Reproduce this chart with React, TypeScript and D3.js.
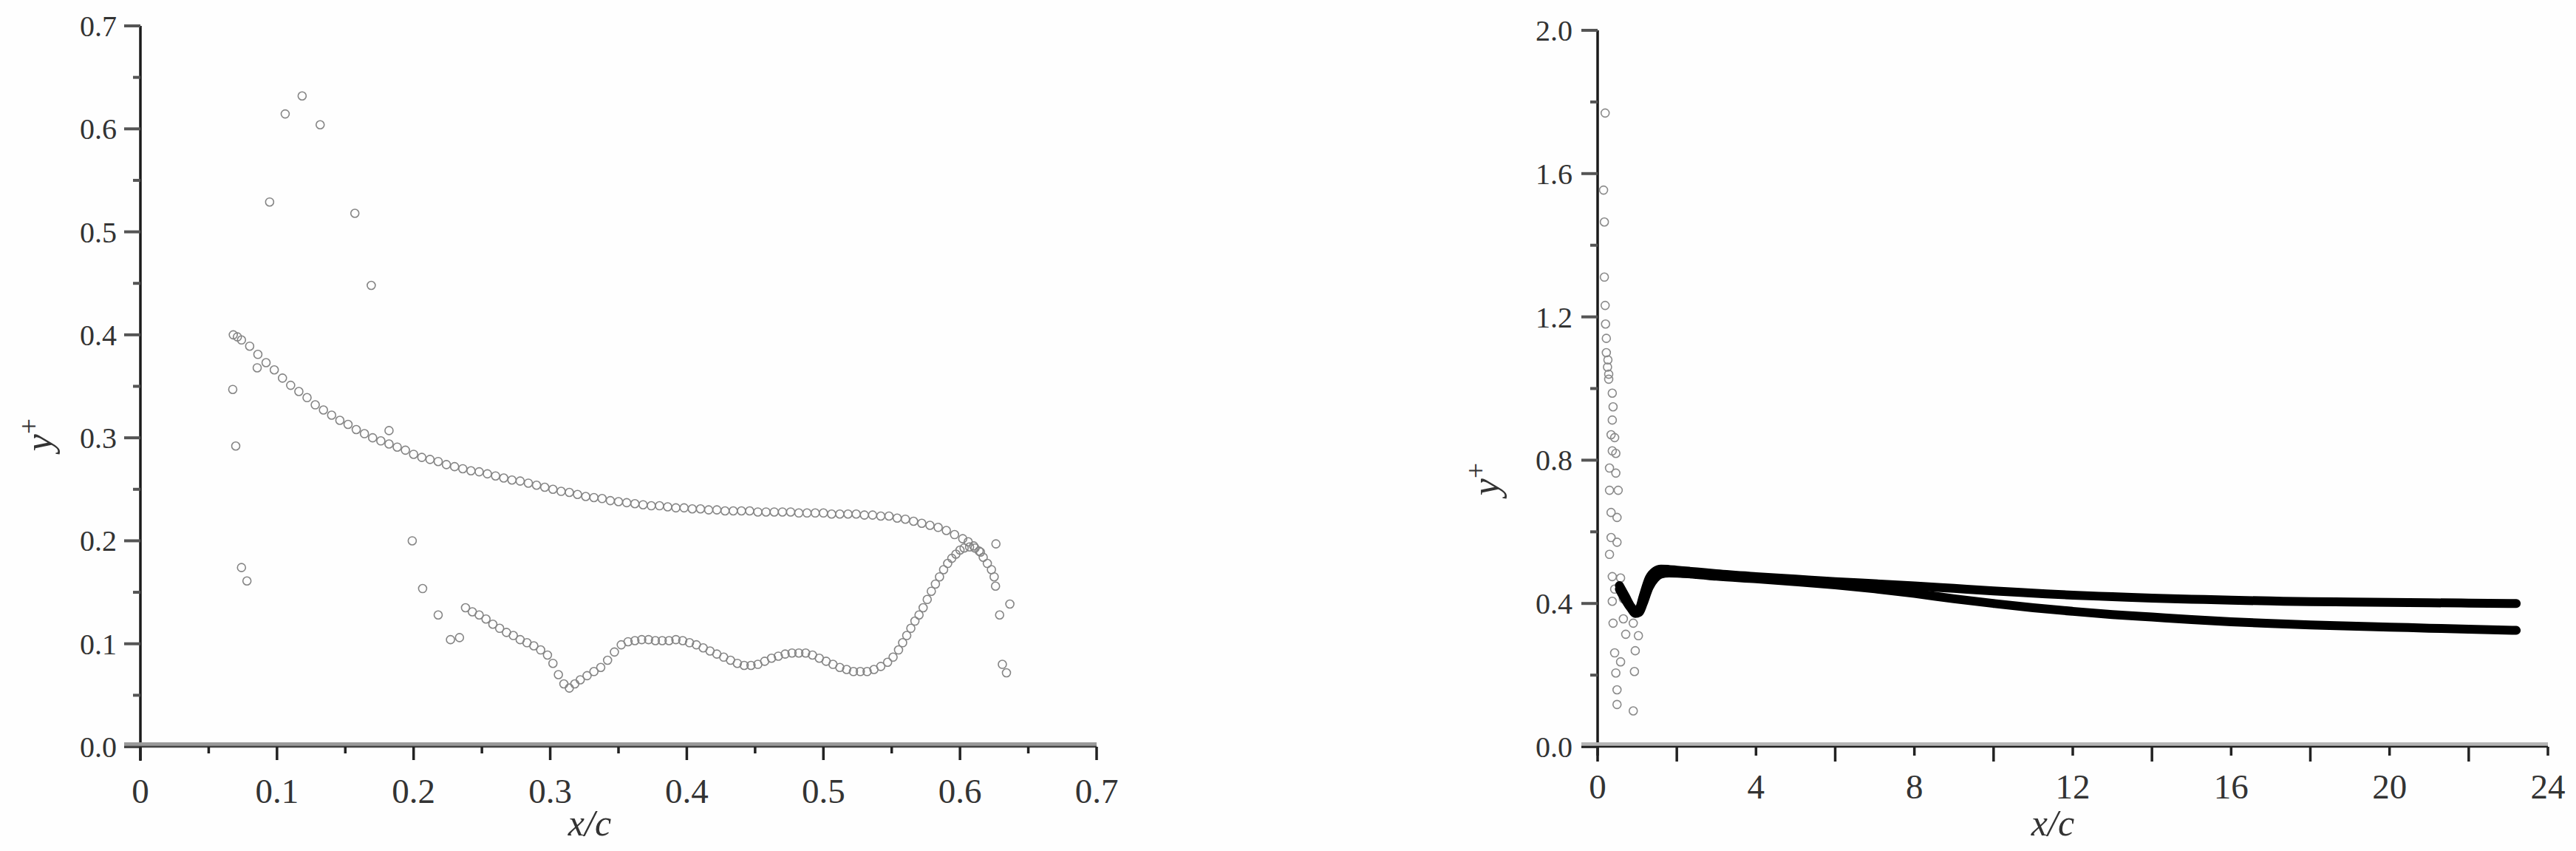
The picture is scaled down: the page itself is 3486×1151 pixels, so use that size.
import React from 'react';
import * as d3 from 'd3';

const W = 3486;
const H = 1151;

// ---------- Left panel data ----------
const leftXTicks = [0, 0.1, 0.2, 0.3, 0.4, 0.5, 0.6, 0.7];
const leftXTickLabels = ['0', '0.1', '0.2', '0.3', '0.4', '0.5', '0.6', '0.7'];
const leftXMinor = [0.05, 0.15, 0.25, 0.35, 0.45, 0.55, 0.65];
const leftYTicks = [0, 0.1, 0.2, 0.3, 0.4, 0.5, 0.6, 0.7];
const leftYTickLabels = ['0.0', '0.1', '0.2', '0.3', '0.4', '0.5', '0.6', '0.7'];
const leftYMinor = [0.05, 0.15, 0.25, 0.35, 0.45, 0.55, 0.65];

const upperX = [0.068, 0.071, 0.074, 0.080, 0.086, 0.092, 0.098, 0.104, 0.110, 0.116, 0.122, 0.128, 0.134, 0.140, 0.146, 0.152, 0.158, 0.164, 0.170, 0.176, 0.182, 0.188, 0.194, 0.200, 0.206, 0.212, 0.218, 0.224, 0.230, 0.236, 0.242, 0.248, 0.254, 0.260, 0.266, 0.272, 0.278, 0.284, 0.290, 0.296, 0.302, 0.308, 0.314, 0.320, 0.326, 0.332, 0.338, 0.344, 0.350, 0.356, 0.362, 0.368, 0.374, 0.380, 0.386, 0.392, 0.398, 0.404, 0.410, 0.416, 0.422, 0.428, 0.434, 0.440, 0.446, 0.452, 0.458, 0.464, 0.470, 0.476, 0.482, 0.488, 0.494, 0.500, 0.506, 0.512, 0.518, 0.524, 0.530, 0.536, 0.542, 0.548, 0.554, 0.560, 0.566, 0.572, 0.578, 0.584, 0.590, 0.596, 0.602, 0.606, 0.610, 0.614, 0.617, 0.620, 0.623, 0.625, 0.626];
const upperY = [0.400, 0.398, 0.395, 0.389, 0.381, 0.373, 0.366, 0.358, 0.351, 0.345, 0.339, 0.332, 0.327, 0.322, 0.317, 0.313, 0.308, 0.304, 0.300, 0.297, 0.294, 0.291, 0.288, 0.284, 0.281, 0.279, 0.277, 0.274, 0.272, 0.270, 0.268, 0.267, 0.265, 0.263, 0.261, 0.259, 0.258, 0.256, 0.254, 0.252, 0.250, 0.248, 0.247, 0.245, 0.243, 0.242, 0.241, 0.239, 0.238, 0.237, 0.236, 0.235, 0.234, 0.234, 0.233, 0.232, 0.232, 0.231, 0.231, 0.230, 0.230, 0.229, 0.229, 0.229, 0.229, 0.228, 0.228, 0.228, 0.228, 0.228, 0.227, 0.227, 0.227, 0.227, 0.226, 0.226, 0.226, 0.226, 0.225, 0.225, 0.224, 0.224, 0.222, 0.221, 0.219, 0.217, 0.215, 0.213, 0.210, 0.206, 0.202, 0.199, 0.195, 0.190, 0.184, 0.178, 0.172, 0.165, 0.156];

const lowerX = [0.238, 0.243, 0.248, 0.253, 0.258, 0.263, 0.268, 0.273, 0.278, 0.283, 0.288, 0.293, 0.298, 0.302, 0.306, 0.310, 0.314, 0.318, 0.322, 0.327, 0.332, 0.337, 0.342, 0.347, 0.352, 0.357, 0.362, 0.367, 0.372, 0.377, 0.382, 0.387, 0.392, 0.397, 0.402, 0.407, 0.412, 0.417, 0.422, 0.427, 0.432, 0.437, 0.442, 0.447, 0.452, 0.457, 0.462, 0.467, 0.472, 0.477, 0.482, 0.487, 0.492, 0.497, 0.502, 0.507, 0.512, 0.517, 0.522, 0.527, 0.532, 0.537, 0.542, 0.547, 0.551, 0.555, 0.558, 0.561, 0.564, 0.567, 0.570, 0.573, 0.576, 0.579, 0.582, 0.585, 0.588, 0.591, 0.594, 0.597, 0.600, 0.603, 0.607, 0.611, 0.615];
const lowerY = [0.135, 0.131, 0.128, 0.124, 0.119, 0.115, 0.111, 0.108, 0.104, 0.101, 0.098, 0.094, 0.089, 0.081, 0.070, 0.061, 0.057, 0.061, 0.065, 0.069, 0.073, 0.077, 0.084, 0.092, 0.099, 0.102, 0.103, 0.104, 0.104, 0.103, 0.103, 0.103, 0.104, 0.103, 0.101, 0.099, 0.096, 0.093, 0.090, 0.087, 0.084, 0.081, 0.079, 0.079, 0.080, 0.083, 0.086, 0.088, 0.090, 0.091, 0.091, 0.091, 0.089, 0.086, 0.083, 0.080, 0.077, 0.075, 0.073, 0.073, 0.073, 0.075, 0.078, 0.082, 0.087, 0.094, 0.101, 0.108, 0.115, 0.122, 0.128, 0.135, 0.143, 0.151, 0.158, 0.165, 0.172, 0.178, 0.183, 0.187, 0.191, 0.193, 0.194, 0.193, 0.189];

const scatterLX = [0.0676, 0.0698, 0.074, 0.078, 0.0855, 0.0946, 0.106, 0.1184, 0.1316, 0.157, 0.169, 0.182, 0.199, 0.2066, 0.218, 0.227, 0.2336, 0.6263, 0.6365, 0.629, 0.631, 0.634];
const scatterLY = [0.347, 0.292, 0.174, 0.161, 0.368, 0.529, 0.6145, 0.632, 0.604, 0.518, 0.448, 0.307, 0.200, 0.1536, 0.128, 0.104, 0.106, 0.197, 0.1386, 0.128, 0.080, 0.0718];

// ---------- Right panel data ----------
const rightXTicks = [0, 4, 8, 12, 16, 20, 24];
const rightXTickLabels = ['0', '4', '8', '12', '16', '20', '24'];
const rightXMid = [2, 6, 10, 14, 18, 22];
const rightYTicks = [0, 0.4, 0.8, 1.2, 1.6, 2.0];
const rightYTickLabels = ['0.0', '0.4', '0.8', '1.2', '1.6', '2.0'];
const rightYMinor = [0.2, 0.6, 1.0, 1.4, 1.8];

const trackX = [0.55, 0.7, 0.85, 0.95, 1.05, 1.15, 1.3, 1.45, 1.6, 1.8, 2.1, 2.5, 3, 4, 5, 6, 7, 8, 9, 10, 11, 12, 13, 14, 15, 16, 17, 18, 19, 20, 21, 22, 23.2];
const trackAY = [0.45, 0.42, 0.39, 0.38, 0.385, 0.42, 0.47, 0.49, 0.496, 0.495, 0.492, 0.488, 0.483, 0.475, 0.468, 0.461, 0.455, 0.449, 0.442, 0.435, 0.429, 0.423, 0.419, 0.415, 0.412, 0.409, 0.407, 0.405, 0.404, 0.403, 0.402, 0.401, 0.400];
const trackBY = [0.44, 0.41, 0.385, 0.372, 0.375, 0.40, 0.445, 0.47, 0.482, 0.485, 0.484, 0.481, 0.476, 0.469, 0.461, 0.452, 0.441, 0.428, 0.413, 0.400, 0.388, 0.378, 0.369, 0.362, 0.355, 0.349, 0.344, 0.340, 0.337, 0.334, 0.331, 0.328, 0.325];

const scatterRX = [0.19, 0.15, 0.17, 0.17, 0.19, 0.20, 0.22, 0.22, 0.25, 0.26, 0.28, 0.28, 0.37, 0.39, 0.37, 0.34, 0.43, 0.37, 0.46, 0.30, 0.46, 0.30, 0.52, 0.34, 0.49, 0.34, 0.49, 0.30, 0.37, 0.58, 0.43, 0.37, 0.65, 0.39, 0.65, 0.90, 0.71, 1.03, 0.43, 0.95, 0.58, 0.46, 0.93, 0.49, 0.49, 0.90];
const scatterRY = [1.769, 1.554, 1.465, 1.311, 1.232, 1.18, 1.14, 1.10, 1.06, 1.08, 1.04, 1.026, 0.987, 0.949, 0.912, 0.871, 0.863, 0.826, 0.819, 0.778, 0.764, 0.716, 0.716, 0.654, 0.640, 0.584, 0.571, 0.537, 0.475, 0.471, 0.440, 0.406, 0.413, 0.345, 0.357, 0.345, 0.314, 0.310, 0.262, 0.268, 0.237, 0.206, 0.210, 0.159, 0.118, 0.100];

const FONT = '"Liberation Serif", "DejaVu Serif", serif';
const TXT = '#333';

function LeftPanel() {
  const x = d3.scaleLinear().domain([0, 0.7]).range([190, 1484]);
  const y = d3.scaleLinear().domain([0, 0.7]).range([1010, 35]);
  const upper = upperX.map((v, i) => [v, upperY[i]]);
  const lower = lowerX.map((v, i) => [v, lowerY[i]]);
  const scat = scatterLX.map((v, i) => [v, scatterLY[i]]);
  const ringColor = '#858585';
  return (
    <g>
      <line x1={x(0)} x2={x(0)} y1={y(0.7)} y2={1029} stroke="#1a1a1a" strokeWidth={3.5} />
      {leftYTicks.map((t, i) => (
        <g key={'ly' + i}>
          <line x1={x(0) - 22} x2={x(0)} y1={y(t)} y2={y(t)} stroke="#555" strokeWidth={4} />
          <text x={158} y={y(t)} dy="0.35em" textAnchor="end" fontSize={40} fill={TXT} fontFamily={FONT}>{leftYTickLabels[i]}</text>
        </g>
      ))}
      {leftYMinor.map((t, i) => (
        <line key={'lym' + i} x1={x(0) - 10} x2={x(0)} y1={y(t)} y2={y(t)} stroke="#555" strokeWidth={4} />
      ))}
      <rect x={x(0) - 22} y={y(0) - 6} width={x(0.7) - x(0) + 22} height={5} fill="#9a9a9a" />
      <line x1={x(0) - 22} x2={x(0.7)} y1={y(0)} y2={y(0)} stroke="#444" strokeWidth={2.5} />
      {leftXTicks.map((t, i) => (
        <g key={'lx' + i}>
          <line x1={x(t)} x2={x(t)} y1={y(0)} y2={y(0) + 18} stroke="#222" strokeWidth={3.5} />
          <text x={x(t)} y={1086} textAnchor="middle" fontSize={47} fill={TXT} fontFamily={FONT}>{leftXTickLabels[i]}</text>
        </g>
      ))}
      {leftXMinor.map((t, i) => (
        <line key={'lxm' + i} x1={x(t)} x2={x(t)} y1={y(0)} y2={y(0) + 9} stroke="#222" strokeWidth={3.5} />
      ))}
      {upper.map((d, i) => (
        <circle key={'u' + i} cx={x(d[0])} cy={y(d[1])} r={5.5} fill="none" stroke={ringColor} strokeWidth={1.6} />
      ))}
      {lower.map((d, i) => (
        <circle key={'l' + i} cx={x(d[0])} cy={y(d[1])} r={5.5} fill="none" stroke={ringColor} strokeWidth={1.6} />
      ))}
      {scat.map((d, i) => (
        <circle key={'s' + i} cx={x(d[0])} cy={y(d[1])} r={5.5} fill="none" stroke={ringColor} strokeWidth={1.6} />
      ))}
      <text x={798} y={1130} textAnchor="middle" fontSize={50} fontStyle="italic" fill={TXT} fontFamily={FONT}>x/c</text>
      <text transform="translate(70,588) rotate(-90)" textAnchor="middle" fontSize={52} fill={TXT} fontFamily={FONT}>
        <tspan fontStyle="italic">y</tspan>
        <tspan fontSize={38} dy={-18}>+</tspan>
      </text>
    </g>
  );
}

function RightPanel() {
  const x = d3.scaleLinear().domain([0, 24]).range([2162, 3448]);
  const y = d3.scaleLinear().domain([0, 2]).range([1010, 41]);
  const line = d3.line<number>()
    .x((d, i) => x(trackX[i]))
    .y((d) => y(d))
    .curve(d3.curveMonotoneX);
  const scat = scatterRX.map((v, i) => [v, scatterRY[i]]);
  return (
    <g>
      <line x1={x(0)} x2={x(0)} y1={y(2)} y2={y(0) + 20} stroke="#1a1a1a" strokeWidth={3.5} />
      {rightYTicks.map((t, i) => (
        <g key={'ry' + i}>
          <line x1={x(0) - 22} x2={x(0)} y1={y(t)} y2={y(t)} stroke="#555" strokeWidth={4} />
          <text x={2128} y={y(t)} dy="0.35em" textAnchor="end" fontSize={40} fill={TXT} fontFamily={FONT}>{rightYTickLabels[i]}</text>
        </g>
      ))}
      {rightYMinor.map((t, i) => (
        <line key={'rym' + i} x1={x(0) - 10} x2={x(0)} y1={y(t)} y2={y(t)} stroke="#555" strokeWidth={4} />
      ))}
      <rect x={x(0) - 22} y={y(0) - 6} width={x(24) - x(0) + 22} height={5} fill="#b5b5b5" />
      <line x1={x(0) - 22} x2={x(24)} y1={y(0)} y2={y(0)} stroke="#222" strokeWidth={2.5} />
      {rightXTicks.map((t, i) => (
        <g key={'rx' + i}>
          <line x1={x(t)} x2={x(t)} y1={y(0)} y2={y(0) + 12} stroke="#222" strokeWidth={3.5} />
          <text x={x(t)} y={1080} textAnchor="middle" fontSize={47} fill={TXT} fontFamily={FONT}>{rightXTickLabels[i]}</text>
        </g>
      ))}
      {rightXMid.map((t, i) => (
        <line key={'rxm' + i} x1={x(t)} x2={x(t)} y1={y(0)} y2={y(0) + 20} stroke="#222" strokeWidth={3.5} />
      ))}
      {scat.map((d, i) => (
        <circle key={'rs' + i} cx={x(d[0])} cy={y(d[1])} r={5.5} fill="none" stroke="#8a8a8a" strokeWidth={1.6} />
      ))}
      <path d={line(trackAY) || ''} fill="none" stroke="#000" strokeWidth={12} strokeLinecap="round" strokeLinejoin="round" />
      <path d={line(trackBY) || ''} fill="none" stroke="#000" strokeWidth={12} strokeLinecap="round" strokeLinejoin="round" />
      <text x={2778} y={1130} textAnchor="middle" fontSize={50} fontStyle="italic" fill={TXT} fontFamily={FONT}>x/c</text>
      <text transform="translate(2028,648) rotate(-90)" textAnchor="middle" fontSize={52} fill={TXT} fontFamily={FONT}>
        <tspan fontStyle="italic">y</tspan>
        <tspan fontSize={38} dy={-18}>+</tspan>
      </text>
    </g>
  );
}

export default function App() {
  return (
    <svg
      width={W}
      height={H}
      viewBox={`0 0 ${W} ${H}`}
      style={{ position: 'fixed', left: 0, top: 0, background: '#fff' }}
    >
      <rect x={0} y={0} width={W} height={H} fill="#fefefe" />
      <LeftPanel />
      <RightPanel />
    </svg>
  );
}
